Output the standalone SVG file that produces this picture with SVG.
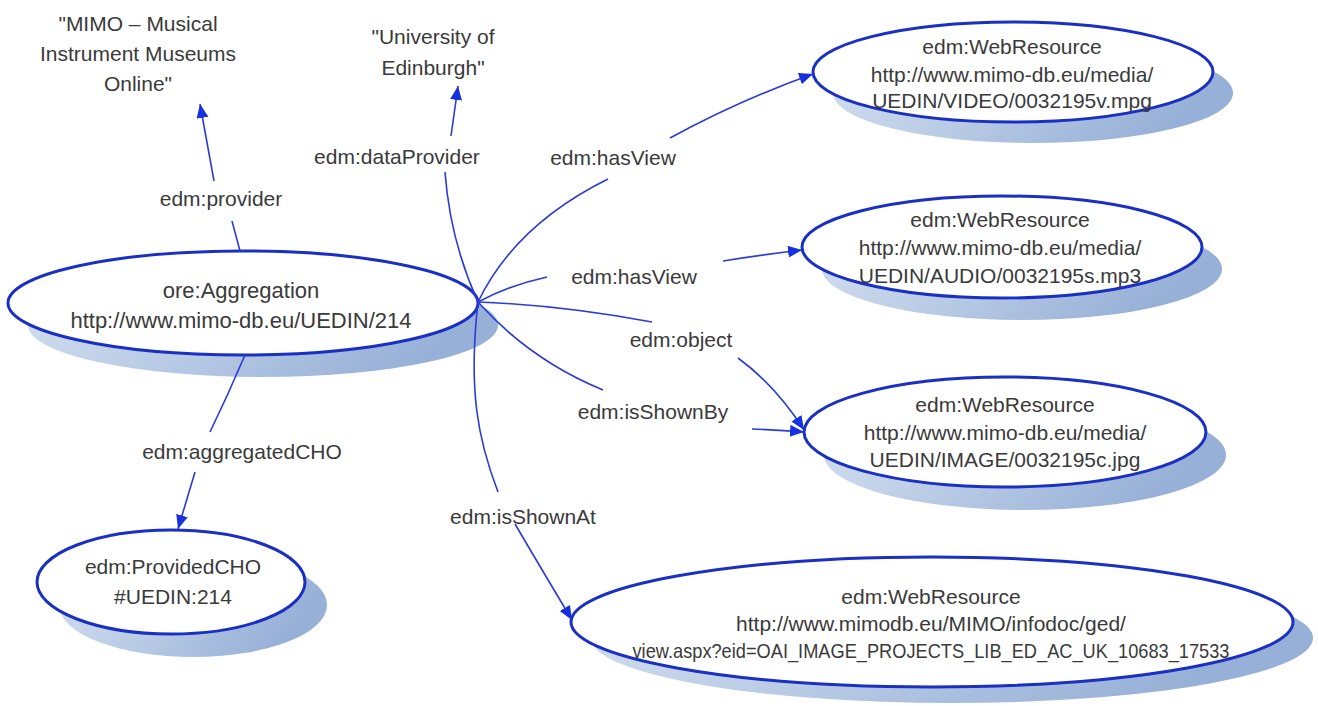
<svg xmlns="http://www.w3.org/2000/svg" width="1318" height="706" viewBox="0 0 1318 706">
<defs>
<linearGradient id="sh" x1="0" y1="0" x2="1" y2="0.3">
<stop offset="0" stop-color="#d6e1f0"/>
<stop offset="0.5" stop-color="#b9cbe5"/>
<stop offset="1" stop-color="#97b0d7"/>
</linearGradient>
<marker id="ah" markerWidth="16" markerHeight="14" refX="14" refY="6" orient="auto" markerUnits="userSpaceOnUse">
<path d="M0,0 L14,6 L0,12 z" fill="#1530e0"/>
</marker>
</defs>
<style>
text{font-family:"Liberation Sans",Arial,sans-serif;fill:#3a3a3a;text-anchor:middle}
.node{fill:#fff;stroke:#1a2fc4;stroke-width:3}
.shadow{fill:url(#sh)}
.lbl{font-size:21px}
.nt{font-size:21px}
.big{font-size:22px}
.edge{fill:none;stroke:#2a3bd8;stroke-width:1.6}
</style>
<rect width="1318" height="706" fill="#fff"/>

<g id="lit-mimo">
<text class="lbl" x="138" y="31">"MIMO – Musical</text>
<text class="lbl" x="138" y="61">Instrument Museums</text>
<text class="lbl" x="138" y="91">Online"</text>
</g>
<g id="lit-uedin">
<text class="lbl" x="433" y="44">"University of</text>
<text class="lbl" x="433" y="75">Edinburgh"</text>
</g>

<g id="aggregation">
<ellipse class="shadow" cx="263" cy="325" rx="235" ry="52"/>
<ellipse class="node" cx="243" cy="303" rx="235" ry="52"/>
<text class="big" x="241" y="298">ore:Aggregation</text>
<text class="big" x="241" y="328">http://www.mimo-db.eu/UEDIN/214</text>
</g>

<g id="providedcho">
<ellipse class="shadow" cx="193" cy="605" rx="134" ry="52"/>
<ellipse class="node" cx="171" cy="582" rx="134" ry="52"/>
<text class="nt" x="173" y="574">edm:ProvidedCHO</text>
<text class="nt" x="173" y="604">#UEDIN:214</text>
</g>

<g id="wr-video">
<ellipse class="shadow" cx="1033" cy="93" rx="200" ry="50"/>
<ellipse class="node" cx="1013" cy="72" rx="200" ry="50"/>
<text class="nt" x="1012" y="54">edm:WebResource</text>
<text class="nt" x="1012" y="82">http://www.mimo-db.eu/media/</text>
<text class="nt" x="1012" y="108">UEDIN/VIDEO/0032195v.mpg</text>
</g>

<g id="wr-audio">
<ellipse class="shadow" cx="1022" cy="269" rx="200" ry="51"/>
<ellipse class="node" cx="1002" cy="247" rx="200" ry="51"/>
<text class="nt" x="1000" y="227">edm:WebResource</text>
<text class="nt" x="1000" y="255">http://www.mimo-db.eu/media/</text>
<text class="nt" x="1000" y="283">UEDIN/AUDIO/0032195s.mp3</text>
</g>

<g id="wr-image">
<ellipse class="shadow" cx="1025" cy="455" rx="201" ry="55"/>
<ellipse class="node" cx="1005" cy="432" rx="201" ry="55"/>
<text class="nt" x="1005" y="412">edm:WebResource</text>
<text class="nt" x="1005" y="440">http://www.mimo-db.eu/media/</text>
<text class="nt" x="1005" y="467">UEDIN/IMAGE/0032195c.jpg</text>
</g>

<g id="wr-page">
<ellipse class="shadow" cx="952" cy="638" rx="361" ry="65"/>
<ellipse class="node" cx="932" cy="622" rx="361" ry="65"/>
<text class="nt" x="931" y="604">edm:WebResource</text>
<text class="nt" x="931" y="631">http://www.mimodb.eu/MIMO/infodoc/ged/</text>
<text class="nt" x="931" y="658" textLength="597" lengthAdjust="spacingAndGlyphs">view.aspx?eid=OAI_IMAGE_PROJECTS_LIB_ED_AC_UK_10683_17533</text>
</g>

<g id="connectors">
<path class="edge" d="M240,251 L232,221"/>
<path class="edge" d="M214,181 L200,104" marker-end="url(#ah)"/>
<path class="edge" d="M478,302 Q450,240 445,172"/>
<path class="edge" d="M451,136 L458,86" marker-end="url(#ah)"/>
<path class="edge" d="M478,302 Q515,225 608,179"/>
<path class="edge" d="M670,138 Q740,100 813,74" marker-end="url(#ah)"/>
<path class="edge" d="M478,302 Q510,285 547,277"/>
<path class="edge" d="M723,261 Q760,255 802,250" marker-end="url(#ah)"/>
<path class="edge" d="M478,302 Q560,305 652,322"/>
<path class="edge" d="M738,358 Q775,385 804,430" marker-end="url(#ah)"/>
<path class="edge" d="M478,302 Q530,360 603,390"/>
<path class="edge" d="M752,429 Q780,430 804,432" marker-end="url(#ah)"/>
<path class="edge" d="M478,302 C468,390 478,440 498,492"/>
<path class="edge" d="M515,524 Q545,575 572,620" marker-end="url(#ah)"/>
<path class="edge" d="M245,355 Q228,395 210,432"/>
<path class="edge" d="M195,472 L178,529" marker-end="url(#ah)"/>
</g>

<g id="labels">
<text class="lbl" x="221" y="206">edm:provider</text>
<text class="lbl" x="397" y="164">edm:dataProvider</text>
<text class="lbl" x="613" y="165">edm:hasView</text>
<text class="lbl" x="634" y="284">edm:hasView</text>
<text class="lbl" x="681" y="347">edm:object</text>
<text class="lbl" x="653" y="419">edm:isShownBy</text>
<text class="lbl" x="523" y="524">edm:isShownAt</text>
<text class="lbl" x="242" y="459">edm:aggregatedCHO</text>
</g>
</svg>
